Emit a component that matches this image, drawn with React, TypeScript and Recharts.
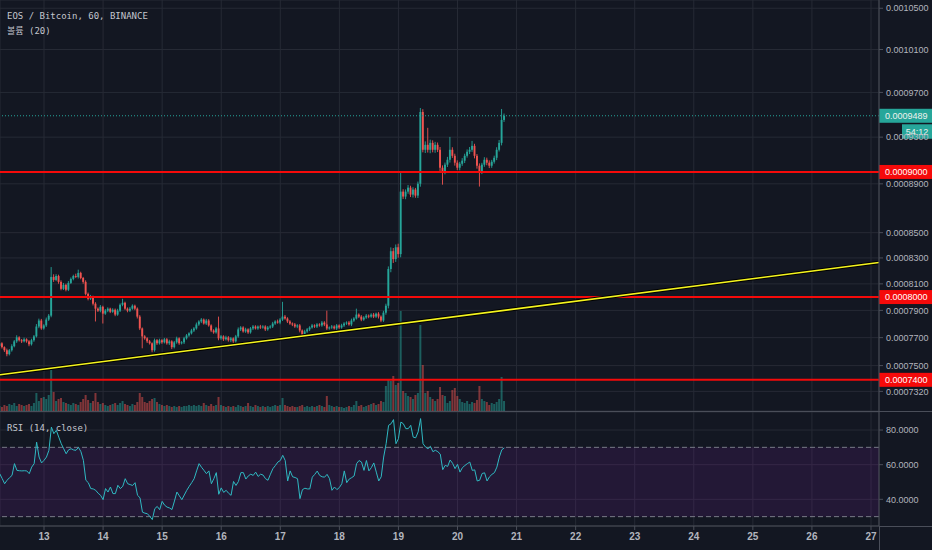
import React from 'react';
import {
  ComposedChart,
  Bar,
  Line,
  XAxis,
  YAxis,
  CartesianGrid,
  ReferenceLine,
  ReferenceArea,
} from 'recharts';

// ---------- data (prices in units of 1e-7 BTC) ----------
const FIRST_HOUR = 6; // first candle: day 12, 06:00 (hours counted from day 12 00:00)
const FIRST_OPEN = 7640;

const closes = [
  7659, 7631, 7609, 7581, 7609, 7638, 7673, 7702, 7681, 7673,
  7688, 7673, 7652, 7681, 7709, 7781, 7825, 7767, 7789, 7832,
  7861, 8153, 8130, 8160, 8115, 8062, 8092, 8055, 8107, 8138,
  8160, 8153, 8184, 8145, 8115, 8024, 7987, 8002, 7950, 7913,
  7898, 7927, 7876, 7898, 7913, 7890, 7905, 7869, 7898, 7942,
  7957, 7913, 7898, 7913, 7935, 7913, 7854, 7767, 7709, 7695,
  7673, 7659, 7609, 7681, 7659, 7681, 7666, 7688, 7659, 7673,
  7631, 7666, 7695, 7659, 7666, 7695, 7716, 7731, 7752, 7767,
  7796, 7818, 7832, 7803, 7825, 7789, 7752, 7738, 7767, 7695,
  7709, 7688, 7702, 7681, 7695, 7673, 7709, 7760, 7774, 7745,
  7760, 7738, 7767, 7781, 7767, 7781, 7774, 7781, 7760, 7774,
  7781, 7803, 7818, 7810, 7832, 7854, 7840, 7818, 7803, 7796,
  7781, 7789, 7752, 7716, 7745, 7760, 7774, 7789, 7781, 7796,
  7789, 7810, 7796, 7767, 7774, 7781, 7767, 7789, 7774, 7789,
  7803, 7810, 7796, 7825, 7840, 7869, 7854, 7832, 7847, 7861,
  7854, 7869, 7854, 7876, 7854, 7825, 7883, 7935, 8214, 8353,
  8291, 8384, 8330, 8835, 8794, 8835, 8868, 8810, 8852, 8802,
  8901, 9523, 9190, 9233, 9190, 9250, 9190, 9233, 9190, 9036,
  9002, 9062, 9104, 9190, 9138, 9079, 9036, 9070, 9096, 9138,
  9173, 9190, 9224, 9138, 9053, 9002, 9062, 9104, 9079, 9053,
  9087, 9121, 9190, 9250, 9452, 9489,
];

const upperWicks = [
  10, 8, 6, 12, 9, 14, 10, 15, 8, 9,
  12, 7, 9, 11, 10, 18, 14, 12, 9, 15,
  12, 76, 20, 14, 10, 12, 15, 9, 14, 11,
  10, 18, 25, 9, 8, 12, 10, 14, 8, 11,
  9, 13, 8, 12, 10, 7, 11, 9, 14, 10,
  30, 8, 9, 12, 10, 8, 9, 11, 7, 9,
  8, 10, 7, 12, 9, 11, 8, 10, 9, 12,
  8, 10, 12, 7, 9, 11, 10, 8, 12, 10,
  14, 9, 11, 8, 12, 10, 8, 9, 11, 87,
  10, 8, 12, 9, 10, 7, 11, 14, 10, 9,
  12, 8, 10, 11, 9, 8, 12, 10, 9, 11,
  10, 12, 9, 14, 11, 110, 12, 9, 10, 8,
  11, 9, 10, 8, 12, 10, 9, 11, 8, 10,
  9, 12, 10, 102, 8, 11, 9, 10, 8, 12,
  10, 9, 12, 14, 10, 44, 9, 11, 10, 12,
  9, 10, 12, 8, 11, 9, 14, 15, 20, 30,
  25, 22, 28, 159, 20, 18, 22, 16, 20, 14,
  18, 36, 25, 30, 149, 28, 22, 26, 20, 24,
  20, 18, 25, 112, 22, 18, 20, 16, 22, 18,
  20, 24, 43, 18, 15, 20, 16, 22, 18, 20,
  16, 18, 22, 25, 98, 20,
];

const lowerWicks = [
  8, 10, 12, 15, 9, 10, 8, 11, 9, 12,
  8, 10, 14, 9, 11, 8, 12, 10, 9, 11,
  10, 12, 15, 10, 14, 11, 9, 12, 10, 8,
  11, 9, 12, 10, 14, 11, 12, 9, 13, 95,
  10, 12, 73, 9, 11, 10, 8, 12, 9, 10,
  11, 9, 12, 10, 8, 11, 14, 12, 86, 10,
  12, 9, 14, 10, 12, 9, 11, 8, 10, 12,
  14, 9, 10, 11, 8, 12, 9, 10, 8, 11,
  9, 10, 12, 8, 11, 9, 12, 10, 9, 14,
  11, 12, 9, 10, 13, 11, 9, 10, 12, 9,
  10, 11, 9, 12, 8, 10, 11, 9, 12, 10,
  9, 11, 10, 8, 12, 10, 9, 11, 10, 12,
  10, 12, 14, 11, 9, 10, 12, 8, 10, 11,
  9, 10, 12, 11, 9, 10, 8, 12, 10, 9,
  11, 10, 9, 12, 10, 8, 11, 12, 9, 10,
  12, 9, 11, 10, 14, 12, 10, 15, 20, 25,
  30, 22, 28, 25, 20, 22, 18, 20, 24, 18,
  20, 25, 22, 28, 24, 30, 22, 26, 20, 28,
  109, 22, 20, 24, 18, 25, 20, 22, 18, 20,
  16, 20, 18, 22, 25, 125, 20, 18, 22, 20,
  18, 16, 20, 15, 22, 18,
];

// volume (thousand EOS)
const volumes = [
  5, 4, 6, 5, 7, 6, 8, 5, 7, 6,
  5, 6, 7, 5, 8, 18, 10, 13, 14, 12,
  16, 41, 19, 10, 12, 13, 9, 8, 7, 6,
  8, 7, 6, 9, 12, 16, 11, 8, 10, 18,
  9, 7, 8, 6, 5, 6, 7, 8, 6, 8,
  10, 7, 6, 5, 7, 6, 9, 18, 14, 9,
  8, 10, 12, 13, 9, 7, 6, 5, 6, 5,
  4, 5, 4, 5, 4, 5, 5, 6, 5, 6,
  5, 6, 5, 8, 6, 5, 7, 5, 6, 14,
  6, 5, 4, 5, 4, 5, 4, 6, 5, 4,
  5, 8, 5, 4, 6, 5, 4, 5, 4, 5,
  4, 5, 6, 5, 6, 13, 6, 5, 4, 5,
  4, 4, 5, 6, 4, 5, 4, 5, 4, 5,
  6, 5, 4, 15, 6, 5, 4, 5, 4, 4,
  3, 4, 5, 4, 6, 10, 5, 6, 4, 5,
  6, 7, 8, 6, 7, 10, 9, 25, 32, 30,
  35, 26, 28, 100, 20, 18, 15, 14, 12, 16,
  18, 86, 46, 18, 20, 14, 12, 10, 12, 24,
  16, 15, 8, 10, 21, 23, 15, 12, 9, 8,
  10, 7, 9, 8, 11, 25, 12, 10, 9, 6,
  8, 7, 9, 12, 34, 10,
];
const VOLUME_MAX = 411;

const rsiValues = [
  54.8, 52, 49, 51, 52.5, 53.8, 60.6, 56.7, 56.5, 56.4,
  56.5, 56.4, 54.8, 58.6, 60.6, 73, 64.4, 61, 62.5, 64.4,
  68.3, 81.7, 77.9, 79.8, 75.9, 72.1, 69.2, 66.3, 68.6, 69.2,
  68.5, 68.3, 70, 67.5, 62.5, 51, 49.6, 46.2, 46, 45.2,
  43.5, 42.3, 39.8, 46.2, 44.2, 47.1, 43.3, 43.3, 48.1, 46.2,
  47.5, 51.9, 49, 48.5, 48, 49.6, 42.3, 40.9, 32.6, 32,
  31.7, 30.1, 28.3, 34.6, 35.9, 34, 38.8, 36.6, 35.5, 35,
  34.1, 39, 44.2, 42, 39.8, 42.5, 45.2, 47.5, 49.6, 51.9,
  56.4, 60.6, 58.5, 56.7, 54.8, 56.4, 49, 51.9, 55.4, 42.9,
  46.6, 44, 45.2, 43.5, 42.3, 50.3, 48, 50.3, 55.4, 55.4,
  51.7, 53.5, 54.5, 53.8, 55.7, 53.2, 54.5, 54, 51.9, 51,
  54.5, 57.7, 59.5, 61.5, 62.4, 65.4, 62.4, 50.6, 56.4, 53,
  52.6, 51.9, 40.4, 45.6, 46.4, 46, 46, 52.8, 54.4, 56.3,
  53.8, 53, 52.8, 54.4, 51.9, 45.2, 47.1, 45.6, 46.8, 49,
  56.4, 49.6, 51.7, 52.5, 53.5, 60.6, 62.4, 61.5, 56.7, 62.4,
  56.4, 58.3, 61, 55.7, 50.6, 53, 64.4, 72.1, 82.7, 83.6,
  86, 72.1, 75, 84.6, 83.6, 80.8, 80.8, 82.7, 75.9, 75.5,
  78.9, 86.6, 72.1, 70.2, 69.2, 70.6, 67.5, 68.3, 67.5, 66.1,
  57.1, 59.6, 59, 62.7, 60.8, 57.7, 60.2, 55.7, 58.3, 59.5,
  60.6, 61.5, 56.7, 57, 50.6, 51, 54.9, 55.3, 50.6, 53,
  54.4, 55.4, 58.6, 64.4, 68.6, 69.7,
];

const PRICE_TICKS = [10500, 10100, 9700, 9300, 8900, 8500, 8300, 8100, 7900, 7700, 7500, 7320];
const PRICE_DOMAIN = [7186, 10582];
const DAY_LABELS = [13, 14, 15, 16, 17, 18, 19, 20, 21, 22, 23, 24, 25, 26, 27];
const X_DOMAIN = [6.12, 363.25];
const LEVELS = [9000, 8000, 7400];
const LAST_PRICE = 9489;
const COUNTDOWN = '54:12';
const TREND = [
  { x: 6.12, y: 7436 },
  { x: 363.25, y: 8264 },
];
const RSI_TICKS = [40, 60, 80];
const RSI_DOMAIN = [24.6, 90.4];
const RSI_BAND = [30, 70];

// ---------- derived table ----------
const candles = closes.map((close, i) => {
  const open = i === 0 ? FIRST_OPEN : closes[i - 1];
  return {
    t: FIRST_HOUR + i,
    open,
    close,
    high: Math.max(open, close) + upperWicks[i],
    low: Math.min(open, close) - lowerWicks[i],
    volume: volumes[i],
    rsi: rsiValues[i],
  };
});
const DAY_TICKS = DAY_LABELS.map((d) => (d - 12) * 24);

// ---------- style ----------
const BG = '#131722';
const GRID = '#262a35';
const AXIS = '#4a4e59';
const TEXT = '#b2b5be';
const UP = '#26a69a';
const DOWN = '#ef5350';
const RED = '#f50a0a';
const FONT = '"Liberation Sans", Arial, sans-serif';
const MONO = '"DejaVu Sans Mono", "Noto Sans CJK KR", monospace';

const CandleShape = (props: any) => {
  const { x, y, width, height, payload } = props;
  if (!payload || !isFinite(y) || !isFinite(height)) return null;
  const cx = x + width / 2;
  const { open, close, high, low } = payload;
  const lh = Math.log(high);
  const ll = Math.log(low);
  const py = (v: number) => y + ((lh - Math.log(v)) / (lh - ll)) * height;
  const up = close >= open;
  const color = up ? UP : DOWN;
  const top = py(Math.max(open, close));
  const bot = py(Math.min(open, close));
  return (
    <g>
      <line x1={cx} x2={cx} y1={y} y2={y + height} stroke={color} strokeWidth={0.9} />
      <rect x={cx - 0.95} y={top} width={1.9} height={Math.max(bot - top, 0.8)} fill={color} />
    </g>
  );
};

const VolumeShape = (props: any) => {
  const { x, y, width, height, payload } = props;
  if (!payload || !isFinite(y) || !isFinite(height)) return null;
  const cx = x + width / 2;
  const color = payload.close >= payload.open ? UP : DOWN;
  return <rect x={cx - 1} y={y} width={2} height={height} fill={color} fillOpacity={0.5} />;
};

const AxisTag = (props: any) => {
  const { viewBox, text, bg, fg = '#ffffff', sub } = props;
  if (!viewBox) return null;
  const left = viewBox.x + viewBox.width;
  const cy = viewBox.y;
  return (
    <g>
      <rect x={left} y={cy - 7} width={53} height={14} fill={bg} />
      <text x={left + 6} y={cy + 3.3} fill={fg} fontSize={9} fontFamily={FONT}>
        {text}
      </text>
      {sub ? (
        <g>
          <rect x={left + 23} y={cy + 8.5} width={30} height={14.5} fill={bg} />
          <text x={left + 38} y={cy + 19} fill={fg} fontSize={9} fontFamily={FONT} textAnchor="middle">
            {sub}
          </text>
        </g>
      ) : null}
    </g>
  );
};

const fmtPrice = (v: number) => (v / 1e7).toFixed(7);

export default function App() {
  return (
    <div
      style={{
        position: 'fixed',
        left: 0,
        top: 0,
        width: 932,
        height: 550,
        background: BG,
        overflow: 'hidden',
      }}
    >
      <div style={{ position: 'absolute', left: 0, top: 0 }}>
        <ComposedChart width={932} height={411} data={candles} margin={{ top: 0, right: 0, bottom: 0, left: 0 }}>
          <CartesianGrid stroke={GRID} />
          <XAxis
            dataKey="t"
            type="number"
            domain={X_DOMAIN}
            ticks={DAY_TICKS}
            allowDataOverflow
            hide
          />
          <XAxis xAxisId="v" dataKey="t" type="number" domain={X_DOMAIN} allowDataOverflow hide />
          <YAxis
            orientation="right"
            width={53}
            type="number"
            scale="log"
            domain={PRICE_DOMAIN}
            allowDataOverflow
            ticks={PRICE_TICKS}
            interval={0}
            tickFormatter={fmtPrice}
            tickSize={4}
            tickMargin={3}
            axisLine={{ stroke: AXIS }}
            tickLine={{ stroke: AXIS }}
            tick={{ fill: TEXT, fontSize: 9, fontFamily: FONT }}
          />
          <YAxis yAxisId="vol" hide domain={[0, VOLUME_MAX]} allowDataOverflow />
          <Bar
            xAxisId="v"
            yAxisId="vol"
            dataKey="volume"
            barSize={2}
            shape={VolumeShape}
            isAnimationActive={false}
          />
          <Bar
            dataKey={(d: any) => [d.low, d.high]}
            barSize={2}
            shape={CandleShape}
            isAnimationActive={false}
          />
          <ReferenceLine y={LAST_PRICE} stroke={UP} strokeDasharray="1 2" strokeWidth={1} />
          {LEVELS.map((lv) => (
            <ReferenceLine
              key={lv}
              y={lv}
              stroke={RED}
              strokeWidth={2}
              label={<AxisTag text={fmtPrice(lv)} bg={RED} />}
            />
          ))}
          <ReferenceLine segment={TREND} stroke="#000000" strokeWidth={3.5} />
          <ReferenceLine segment={TREND} stroke="#f5f51e" strokeWidth={1.6} />
          <ReferenceLine
            y={LAST_PRICE}
            stroke="none"
            label={<AxisTag text={fmtPrice(LAST_PRICE)} bg={UP} fg="#eef2ee" sub={COUNTDOWN} />}
          />
        </ComposedChart>
      </div>

      <div
        style={{
          position: 'absolute',
          left: 0,
          top: 411,
          width: 932,
          height: 139,
          borderTop: `1px solid ${AXIS}`,
          boxSizing: 'border-box',
        }}
      >
        <ComposedChart width={932} height={138} data={candles} margin={{ top: 0, right: 0, bottom: 0, left: 0 }}>
          <CartesianGrid stroke={GRID} />
          <ReferenceArea y1={RSI_BAND[0]} y2={RSI_BAND[1]} fill="#7b1fa2" fillOpacity={0.16} stroke="none" />
          <XAxis
            dataKey="t"
            type="number"
            domain={X_DOMAIN}
            ticks={DAY_TICKS}
            interval={0}
            allowDataOverflow
            height={24}
            tickSize={4}
            tickMargin={3}
            tickFormatter={(t: number) => String(t / 24 + 12)}
            axisLine={{ stroke: AXIS }}
            tickLine={{ stroke: AXIS }}
            tick={{ fill: TEXT, fontSize: 10, fontFamily: FONT, fontWeight: 600 }}
          />
          <YAxis
            orientation="right"
            width={53}
            type="number"
            domain={RSI_DOMAIN}
            allowDataOverflow
            ticks={RSI_TICKS}
            interval={0}
            tickFormatter={(v: number) => v.toFixed(4)}
            tickSize={4}
            tickMargin={3}
            axisLine={{ stroke: AXIS }}
            tickLine={{ stroke: AXIS }}
            tick={{ fill: TEXT, fontSize: 9, fontFamily: FONT }}
          />
          <ReferenceLine y={RSI_BAND[1]} stroke="#787b86" strokeDasharray="5 3" />
          <ReferenceLine y={RSI_BAND[0]} stroke="#787b86" strokeDasharray="5 3" />
          <Line
            dataKey="rsi"
            type="linear"
            stroke="#2fb9c2"
            strokeWidth={1}
            dot={false}
            isAnimationActive={false}
          />
        </ComposedChart>
      </div>

      <div style={{ position: 'absolute', left: 879, top: 526, width: 53, height: 1, background: AXIS }} />
      <div style={{ position: 'absolute', left: 879, top: 526, width: 1, height: 24, background: AXIS }} />

      <div
        style={{
          position: 'absolute',
          left: 7,
          top: 10,
          font: `9px ${MONO}`,
          lineHeight: '12px',
          color: '#c3c6ce',
          whiteSpace: 'pre',
        }}
      >
        EOS / Bitcoin, 60, BINANCE
      </div>
      <div
        style={{
          position: 'absolute',
          left: 7,
          top: 25,
          font: `9px ${MONO}`,
          lineHeight: '12px',
          color: '#c3c6ce',
          whiteSpace: 'pre',
        }}
      >
        볼륨 (20)
      </div>
      <div
        style={{
          position: 'absolute',
          left: 7,
          top: 422,
          font: `9px ${MONO}`,
          lineHeight: '12px',
          color: '#c3c6ce',
          whiteSpace: 'pre',
        }}
      >
        RSI (14, close)
      </div>
    </div>
  );
}
